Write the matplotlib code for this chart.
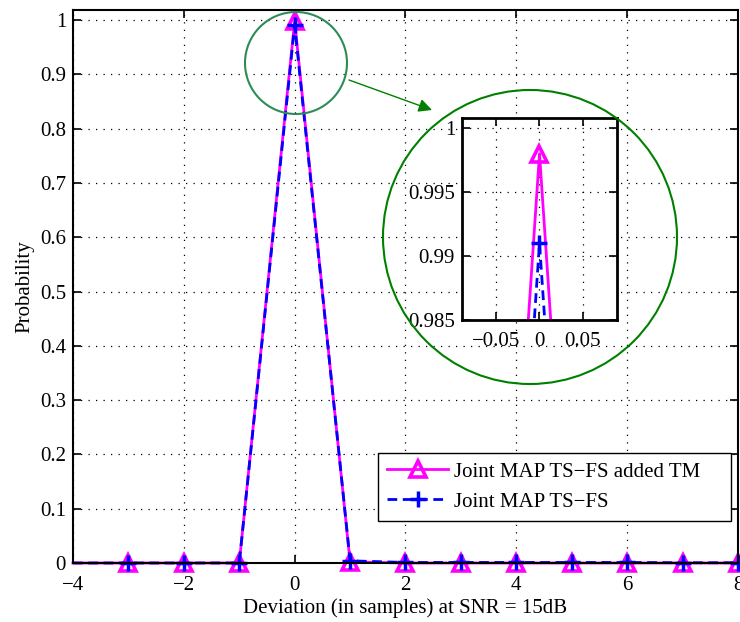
import matplotlib
matplotlib.use("Agg")
import matplotlib.pyplot as plt
from matplotlib.patches import Ellipse, FancyArrowPatch

# deviation (in samples) and detection probability
desvio = [-4, -3, -2, -1, 0, 1, 2, 3, 4, 5, 6, 7, 8]
prob_tm = [0, 0, 0, 0, 0.998, 0.002, 0, 0, 0, 0, 0, 0, 0]
prob_ts = [0, 0, 0, 0, 0.991, 0.004, 0.001, 0.001, 0.001, 0.001, 0.001, 0.0005, 0.0005]

xticks = [-4, -2, 0, 2, 4, 6, 8]
yticks = [0, 0.1, 0.2, 0.3, 0.4, 0.5, 0.6, 0.7, 0.8, 0.9, 1]
ytick_labels = ["0", "0.1", "0.2", "0.3", "0.4", "0.5", "0.6", "0.7", "0.8", "0.9", "1"]
zoom_xticks = [-0.05, 0, 0.05]
zoom_xtick_labels = ["\u22120.05", "0", "0.05"]
zoom_yticks = [0.985, 0.99, 0.995, 1]
zoom_ytick_labels = ["0.985", "0.99", "0.995", "1"]

plt.rcParams["font.family"] = ["Liberation Serif", "DejaVu Serif"]
plt.rcParams["font.size"] = 15
plt.rcParams["axes.unicode_minus"] = True

W, H = 740, 622
fig = plt.figure(figsize=(W / 100, H / 100), dpi=100)


def estilo_ejes(ax):
    ax.tick_params(direction="in", top=True, right=True, length=6, width=1.2, pad=5)
    ax.tick_params(axis="x", pad=9)
    for s in ax.spines.values():
        s.set_linewidth(1.5)
    ax.grid(True, color="black", linestyle=(0, (1, 5)), linewidth=0.9)


def dibujar_series(ax, ms=11, clip=True):
    marcas = list(range(1, len(desvio)))
    ax.plot(desvio, prob_tm, color="#ff00ff", linewidth=2, marker="^",
            markersize=ms, markerfacecolor="none", markeredgewidth=2.6,
            markevery=marcas, clip_on=clip,
            label="Joint MAP TS\u2212FS added TM    ")
    ax.plot(desvio, prob_ts, color="#0000ff", linewidth=2, linestyle=(0, (3.5, 2)),
            marker="+", markersize=ms, markeredgewidth=2.5,
            markevery=marcas, clip_on=clip, label="Joint MAP TS\u2212FS")


ax = fig.add_axes([73 / W, 1 - 563 / H, 665 / W, 553 / H])
dibujar_series(ax, clip=False)
ax.set_xlim(-4, 8)
ax.set_ylim(0, 1.0185)
ax.set_xticks(xticks)
ax.set_yticks(yticks)
ax.set_yticklabels(ytick_labels)
estilo_ejes(ax)
ax.set_xlabel("Deviation (in samples) at SNR = 15dB", labelpad=3)
ax.set_ylabel("Probability", labelpad=4)
leg = ax.legend(loc="lower right", bbox_to_anchor=(0.989, 0.076), fancybox=False,
                framealpha=1, edgecolor="black", handlelength=2.9,
                borderpad=0.45, labelspacing=0.5, handletextpad=0.3,
                borderaxespad=0, fontsize=15)
leg.get_frame().set_linewidth(1.0)

# inset (zoom on the peak)
axz = fig.add_axes([462 / W, 1 - 320 / H, 155 / W, 202 / H])
dibujar_series(axz, ms=12)
axz.set_xlim(-0.09, 0.09)
axz.set_ylim(0.985, 1.0008)
axz.set_xticks(zoom_xticks)
axz.set_xticklabels(zoom_xtick_labels)
axz.set_yticks(zoom_yticks)
axz.set_yticklabels(zoom_ytick_labels)
estilo_ejes(axz)
axz.spines[:].set_linewidth(2)

# circles and arrow in figure coordinates
fig.add_artist(Ellipse((296 / W, 1 - 63 / H), 2 * 51 / W, 2 * 51 / H,
                       transform=fig.transFigure, fill=False,
                       edgecolor="#2e8b57", linewidth=1.5))
fig.add_artist(Ellipse((530 / W, 1 - 237 / H), 2 * 147 / W, 2 * 147 / H,
                       transform=fig.transFigure, fill=False,
                       edgecolor="#008000", linewidth=1.5))
fig.add_artist(FancyArrowPatch((349 / W, 1 - 80 / H), (432 / W, 1 - 110 / H),
                               transform=fig.transFigure, color="#008000",
                               arrowstyle="-|>,head_length=8,head_width=4",
                               linewidth=1.0, shrinkA=0, shrinkB=0))

fig.savefig("out.png", dpi=100)
